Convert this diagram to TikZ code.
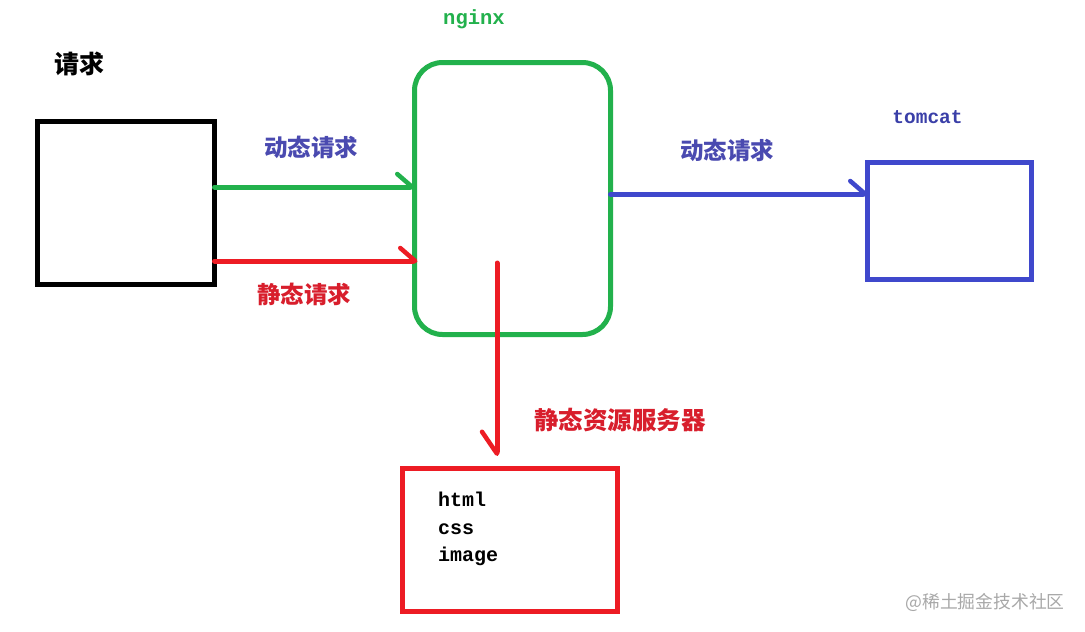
\documentclass[tikz,border=0pt]{standalone}
\usepackage{fontspec}
\newfontfamily\cjk{Noto Sans CJK SC}
\newfontfamily\monof{Liberation Mono}
\usetikzlibrary{arrows.meta,calc}
\definecolor{pgreen}{HTML}{22B14C}
\definecolor{pred}{HTML}{ED1C24}
\definecolor{pblue}{HTML}{3F48CC}
\definecolor{lblue}{HTML}{4A4AB0}
\definecolor{lred}{HTML}{D81E2C}
\definecolor{tcblue}{HTML}{3A3FA8}
\definecolor{wm}{HTML}{A8A8A8}
\tikzset{
  box/.style={draw, line width=5pt, inner sep=0pt, outer sep=0pt, fill=none},
  conn/.style={line width=5pt, line cap=round},
  halfhead/.style={-{Straight Barb[left, length=15pt, width=26pt, line width=4.5pt, round]}},
  halfheadr/.style={-{Straight Barb[right, length=22pt, width=30pt, line width=4.5pt, round]}},
  cnlabel/.style={font=\cjk\bfseries\fontsize{23.5}{26}\selectfont, inner sep=0pt},
  monolabel/.style={font=\monof\bfseries\fontsize{20}{22}\selectfont, inner sep=0pt},
  filelabel/.style={font=\monof\bfseries\fontsize{20}{22}\selectfont, inner sep=0pt, anchor=base west, black},
}
\begin{document}
\begin{tikzpicture}[x=1pt,y=-1pt]
\useasboundingbox (0,0) rectangle (1085,632);
\fill[white] (0,0) rectangle (1085,632);

% boxes
\node[box, black, minimum width=177pt, minimum height=163pt] (client) at (126,203) {};
\node[box, pgreen, rounded corners=28pt, minimum width=196pt, minimum height=272pt] (nginx) at (512.5,198.5) {};
\node[box, pblue, minimum width=164pt, minimum height=117pt] (tomcat) at (949.5,221) {};
\node[box, pred, minimum width=215pt, minimum height=143pt] (static) at (510,540) {};

% labels
\node[cnlabel, black, font=\cjk\bfseries\fontsize{25}{27}\selectfont] (lqq) at (79,64) {请求};
\node[monolabel, pgreen, font=\monof\bfseries\fontsize{20.5}{22}\selectfont] (lng) at (474,19) {nginx};
\node[monolabel, tcblue, font=\monof\bfseries\fontsize{19.5}{22}\selectfont] (ltc) at (927.5,117) {tomcat};
\node[cnlabel, lblue] (ldyn1) at (311,147) {动态请求};
\node[cnlabel, lred] (lsta) at (304,294) {静态请求};
\node[cnlabel, lblue] (ldyn2) at (727,150) {动态请求};
\node[cnlabel, lred, font=\cjk\bfseries\fontsize{24.5}{27}\selectfont] (lsrv) at (620,420) {静态资源服务器};
\node[filelabel] (fhtml) at (438,506) {html};
\node[filelabel] (fcss) at (438,534) {css};
\node[filelabel] (fimg) at (438,561) {image};
\node[font=\cjk\fontsize{17.8}{20}\selectfont, text=wm, inner sep=0pt] (wmark) at (985,602) {@稀土掘金技术社区};

% connectors
\draw[conn, pgreen, halfhead] (client.east |- 0,187) -- (nginx.west |- 0,187);
\draw[conn, pred, halfhead] (client.east |- 0,261) -- ($(nginx.west |- 0,261)+(3,0)$);
\draw[conn, pblue, halfhead] (nginx.east |- 0,194) -- (tomcat.west |- 0,194);
\coordinate (rs) at (497,263);
\draw[conn, pred, halfheadr] (rs) -- (rs |- 0,456);
\end{tikzpicture}
\end{document}
